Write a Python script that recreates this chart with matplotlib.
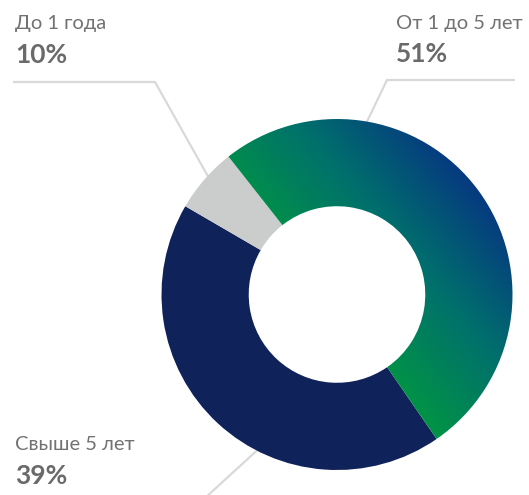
import numpy as np
import matplotlib
matplotlib.use('Agg')
import matplotlib.pyplot as plt
from matplotlib.colors import LinearSegmentedColormap

# segments, clockwise from the green one
categories = ['От 1 до 5 лет', 'Свыше 5 лет', 'До 1 года']
shares = [51, 43, 6]          # arc sizes as drawn
pct_labels = ['51%', '39%', '10%']  # printed labels
colors = [None, '#0f2259', '#cbcdcc']

W, H = 529, 495
fig = plt.figure(figsize=(W / 100, H / 100), dpi=100)
ax = fig.add_axes([0, 0, 1, 1])

cx, cy, r = 337, H - 294.5, 175.5
wedges, _ = ax.pie(shares, center=(cx, cy), radius=r, startangle=128.2,
                   counterclock=False, colors=['#009247'] + colors[1:],
                   wedgeprops=dict(width=r * 0.497, linewidth=0),
                   frame=True)
ax.set_xlim(0, W)
ax.set_ylim(0, H)
ax.set_aspect('equal')
ax.axis('off')
for w in wedges:
    w.set_zorder(3)

# gradient fill for the first segment
grad = LinearSegmentedColormap.from_list('g', ['#009247', '#00706c', '#063a80'])
xs = np.linspace(cx - r, cx + r, 400)
ys = np.linspace(cy - r, cy + r, 400)
X, Y = np.meshgrid(xs, ys)
ang = np.deg2rad(40)
proj = X * np.cos(ang) + Y * np.sin(ang)
t = np.clip((proj - 375) / (562 - 375), 0, 1)
im = ax.imshow(t, cmap=grad, extent=(cx - r, cx + r, cy - r, cy + r),
               origin='lower', zorder=4, interpolation='bilinear')
im.set_clip_path(wedges[0])
wedges[0].set_facecolor('none')

# leader lines
line_kw = dict(color='#d9d9d9', lw=1.6, zorder=1, solid_capstyle='butt')
ax.plot([13, 155, 210], [H - 82, H - 82, H - 180], **line_kw)
ax.plot([515, 387, 362], [H - 80, H - 80, H - 132], **line_kw)
ax.plot([205, 275], [H - 498, H - 434], **line_kw)

font = 'Lato'
txt_c = '#727272'
label_pos = {'До 1 года': (15, 29, 63),
             'От 1 до 5 лет': (396, 29, 62),
             'Свыше 5 лет': (15, 450, 484)}
for name, pct in zip(categories, pct_labels):
    x, y1, y2 = label_pos[name]
    ax.text(x, H - y1, name, fontsize=14.5, family=font, color=txt_c,
            va='baseline', ha='left')
    ax.text(x, H - y2, pct, fontsize=19, family=font, color='#6a6a6a',
            fontweight='bold', va='baseline', ha='left')

fig.savefig('out.png', dpi=100)
